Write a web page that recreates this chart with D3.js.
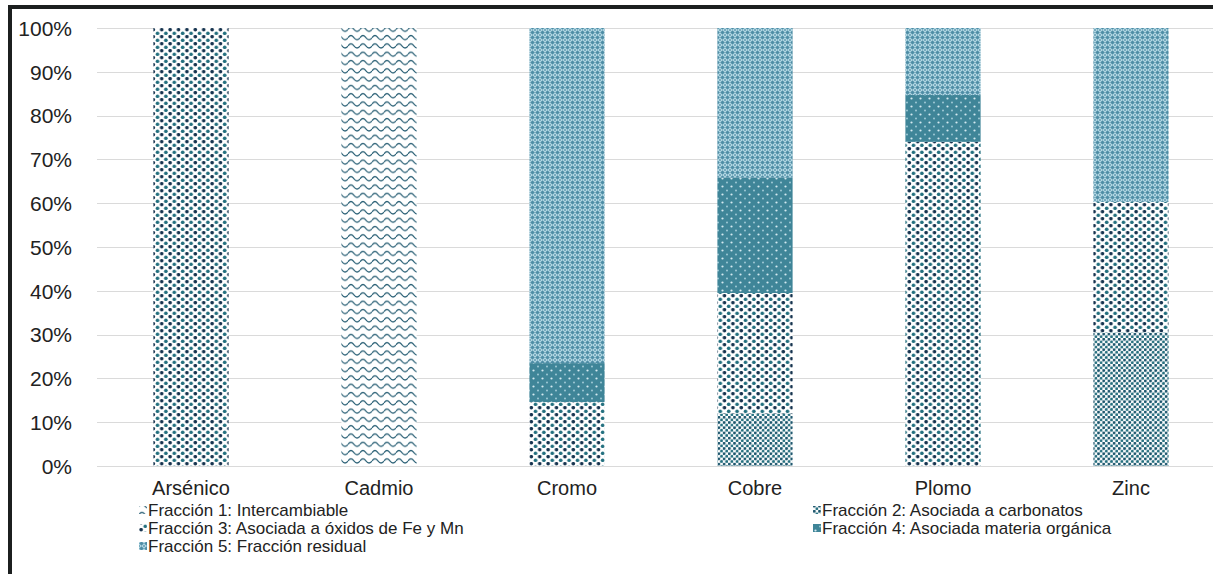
<!DOCTYPE html>
<html>
<head>
<meta charset="utf-8">
<script src="https://cdn.jsdelivr.net/npm/d3@7"></script>
<style>
  html, body { margin: 0; padding: 0; background: #fff; }
  svg { display: block; }
  text { font-family: "Liberation Sans", Arial, sans-serif; fill: #222; }
</style>
</head>
<body>
<svg id="chart" width="1213" height="574"></svg>
<script>
// ---- data ----
const categories = ["Arsénico", "Cadmio", "Cromo", "Cobre", "Plomo", "Zinc"];
const seriesNames = [
  "Fracción 1: Intercambiable",
  "Fracción 2: Asociada a carbonatos",
  "Fracción 3: Asociada a óxidos de Fe y Mn",
  "Fracción 4: Asociada materia orgánica",
  "Fracción 5: Fracción residual"
];
const fraccion1 = [0, 100, 0, 0, 0, 0];
const fraccion2 = [0, 0, 0, 12.0, 0, 30.5];
const fraccion3 = [100, 0, 14.6, 27.5, 74.0, 29.8];
const fraccion4 = [0, 0, 8.9, 26.3, 10.7, 0];
const fraccion5 = [0, 0, 76.5, 34.2, 15.3, 39.7];
const tickValues = [0, 10, 20, 30, 40, 50, 60, 70, 80, 90, 100];
const tickLabels = ["0%", "10%", "20%", "30%", "40%", "50%", "60%", "70%", "80%", "90%", "100%"];

const seriesValues = [fraccion1, fraccion2, fraccion3, fraccion4, fraccion5];
const keys = ["f1", "f2", "f3", "f4", "f5"];
const table = categories.map((c, i) => {
  const row = { cat: c };
  keys.forEach((k, j) => row[k] = seriesValues[j][i]);
  return row;
});

const svg = d3.select("#chart");
const W = 1213, H = 574;

// ---- patterns ----
const defs = svg.append("defs");
// F1: waves
const p1 = defs.append("pattern").attr("id", "pf1").attr("patternUnits", "userSpaceOnUse")
  .attr("width", 12).attr("height", 8.3);
p1.append("rect").attr("width", 12).attr("height", 8.3).attr("fill", "#fff");
p1.append("path").attr("d", "M0,4.5 C2,1.6 4,1.6 6,4.5 C8,7.2 10,7.2 12,4.5")
  .attr("fill", "none").attr("stroke", "#2c6277").attr("stroke-width", 1.3);
// F2: dense dots
const p2 = defs.append("pattern").attr("id", "pf2").attr("patternUnits", "userSpaceOnUse")
  .attr("width", 5.2).attr("height", 5.2);
p2.append("rect").attr("width", 5.2).attr("height", 5.2).attr("fill", "#fff");
p2.append("circle").attr("cx", 1.3).attr("cy", 1.3).attr("r", 1.45).attr("fill", "#1c566d");
p2.append("circle").attr("cx", 3.9).attr("cy", 3.9).attr("r", 1.45).attr("fill", "#26707f");
// F3: sparse dots (hex grid)
const p3 = defs.append("pattern").attr("id", "pf3").attr("patternUnits", "userSpaceOnUse")
  .attr("width", 8.4).attr("height", 7);
p3.append("rect").attr("width", 8.4).attr("height", 7).attr("fill", "#fff");
p3.append("circle").attr("cx", 2.1).attr("cy", 1.75).attr("r", 1.8).attr("fill", "#16344f");
p3.append("circle").attr("cx", 6.3).attr("cy", 5.25).attr("r", 1.8).attr("fill", "#23707f");
// F4: solid teal with light dots
const p4 = defs.append("pattern").attr("id", "pf4").attr("patternUnits", "userSpaceOnUse")
  .attr("width", 9).attr("height", 8);
p4.append("rect").attr("width", 9).attr("height", 8).attr("fill", "#3f8598");
p4.append("circle").attr("cx", 2.5).attr("cy", 2.5).attr("r", 1.1).attr("fill", "#d4e9f0");
p4.append("circle").attr("cx", 7).attr("cy", 6.5).attr("r", 0.9).attr("fill", "#a9d0dc");
// F5: diamond lattice
const p5 = defs.append("pattern").attr("id", "pf5").attr("patternUnits", "userSpaceOnUse")
  .attr("width", 5).attr("height", 5);
p5.append("rect").attr("width", 5).attr("height", 5).attr("fill", "#b4d8e4");
p5.append("path").attr("d", "M2.5,0.2 L4.8,2.5 L2.5,4.8 L0.2,2.5 Z").attr("fill", "#4f8ea6");
p5.append("path").attr("d", "M0,0 L0.6,0.6 M5,0 L4.4,0.6 M0,5 L0.6,4.4 M5,5 L4.4,4.4").attr("stroke", "#4f8ea6").attr("stroke-width", 1);

// ---- scales ----
const x = d3.scaleBand().domain(categories).range([97, 1225]).paddingInner(0.6).paddingOuter(0.3);
const y = d3.scaleLinear().domain([0, 100]).range([466, 28]);

// gridlines
svg.append("g").attr("class", "grid")
  .selectAll("line").data(tickValues).join("line")
  .attr("x1", 97).attr("x2", W)
  .attr("y1", d => Math.round(y(d)) + 0.5).attr("y2", d => Math.round(y(d)) + 0.5)
  .attr("stroke", "#dadada").attr("stroke-width", 1);

// bars
const stack = d3.stack().keys(keys);
const stacked = stack(table);
svg.append("g").selectAll("g").data(stacked).join("g")
  .attr("fill", (d, i) => `url(#pf${i + 1})`)
  .selectAll("rect").data(d => d.filter(s => s[1] - s[0] > 0)).join("rect")
  .attr("x", d => x(d.data.cat))
  .attr("width", x.bandwidth())
  .attr("y", d => y(d[1]))
  .attr("height", d => y(d[0]) - y(d[1]));

// y axis
const yAxis = d3.axisLeft(y).tickValues(tickValues).tickSize(0).tickPadding(0)
  .tickFormat((d, i) => tickLabels[i]);
const gy = svg.append("g").attr("transform", "translate(72,0)").call(yAxis);
gy.select(".domain").remove();
gy.selectAll("text").style("font-size", "21px").style("font-family", '"Liberation Sans", Arial, sans-serif').attr("fill", "#222").attr("dy", "0.35em");

// x axis
const xAxis = d3.axisBottom(x).tickSize(0).tickPadding(0);
const gx = svg.append("g").attr("transform", "translate(0,481)").call(xAxis);
gx.select(".domain").remove();
gx.selectAll("text").style("font-size", "20px").style("font-family", '"Liberation Sans", Arial, sans-serif').attr("fill", "#222").attr("dy", "0.71em");

// legend
const legendPos = [
  { x: 139, y: 510 }, { x: 813, y: 510 },
  { x: 139, y: 528 }, { x: 813, y: 528 },
  { x: 139, y: 546 }
];
const lg = svg.append("g").selectAll("g").data(seriesNames).join("g")
  .attr("transform", (d, i) => `translate(${legendPos[i].x},${legendPos[i].y})`);
lg.append("rect").attr("x", 0).attr("y", -4).attr("width", 8).attr("height", 8)
  .attr("fill", (d, i) => `url(#pf${i + 1})`);
lg.append("text").attr("x", 9).attr("y", 0).attr("dy", "0.35em")
  .style("font-size", "17px").text(d => d);

// frame
svg.append("rect").attr("x", 8).attr("y", 5).attr("width", W).attr("height", 4).attr("fill", "#1c1f1f");
svg.append("rect").attr("x", 8).attr("y", 5).attr("width", 4).attr("height", H).attr("fill", "#1c1f1f");
</script>
</body>
</html>
